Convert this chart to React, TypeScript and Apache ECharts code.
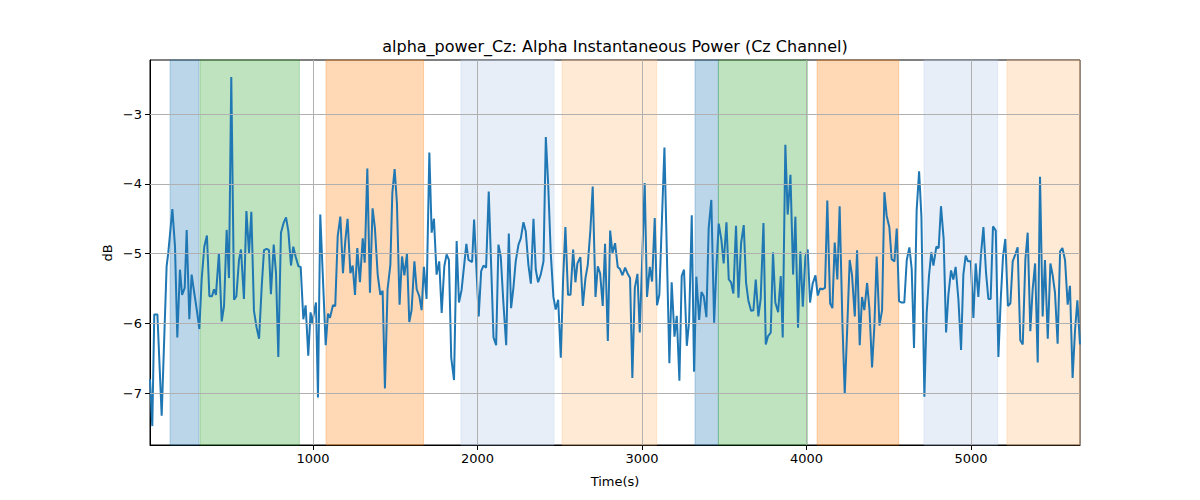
import { useEffect, useRef } from "react";
import * as echarts from "echarts";

const times = [
  9, 23, 35, 54, 80, 110, 120, 145, 161, 175, 191, 204, 220, 232, 248, 262, 278, 293, 309, 323,
  339, 355, 370, 386, 398, 410, 428, 445, 459, 475, 489, 503, 520, 534, 550, 562, 580, 595, 611, 625,
  641, 657, 672, 688, 702, 718, 732, 744, 761, 775, 789, 805, 821, 836, 850, 866, 880, 894, 911, 925,
  941, 955, 971, 985, 996, 1002, 1018, 1030, 1044, 1077, 1091, 1103, 1121, 1135, 1150, 1166, 1182, 1196, 1210, 1227,
  1241, 1255, 1269, 1285, 1302, 1314, 1330, 1346, 1362, 1376, 1393, 1409, 1423, 1437, 1453, 1470, 1482, 1496, 1510, 1526,
  1541, 1555, 1571, 1585, 1599, 1616, 1630, 1646, 1660, 1674, 1690, 1707, 1721, 1735, 1751, 1767, 1782, 1798, 1812, 1826,
  1840, 1857, 1873, 1887, 1903, 1932, 1945, 1967, 1979, 2007, 2022, 2036, 2052, 2068, 2097, 2113, 2127, 2141, 2157, 2174,
  2190, 2204, 2218, 2232, 2249, 2263, 2279, 2293, 2309, 2324, 2340, 2354, 2368, 2384, 2401, 2415, 2429, 2445, 2461, 2475,
  2490, 2506, 2520, 2534, 2550, 2565, 2581, 2595, 2607, 2625, 2640, 2656, 2670, 2686, 2700, 2717, 2731, 2745, 2761, 2775,
  2792, 2806, 2820, 2836, 2852, 2866, 2881, 2897, 2911, 2927, 2941, 2956, 2972, 2986, 3016, 3030, 3047, 3061, 3077, 3091,
  3105, 3136, 3166, 3180, 3197, 3211, 3227, 3241, 3255, 3272, 3286, 3302, 3316, 3330, 3347, 3361, 3375, 3391, 3405, 3421,
  3438, 3452, 3466, 3482, 3496, 3513, 3527, 3541, 3555, 3571, 3586, 3602, 3618, 3632, 3646, 3663, 3677, 3691, 3707, 3721,
  3738, 3752, 3766, 3782, 3796, 3810, 3827, 3843, 3855, 3871, 3885, 3902, 3918, 3932, 3948, 3962, 3977, 3993, 4007, 4021,
  4037, 4054, 4068, 4082, 4096, 4112, 4126, 4143, 4157, 4171, 4187, 4201, 4218, 4232, 4248, 4262, 4276, 4293, 4307, 4323,
  4337, 4351, 4368, 4382, 4398, 4412, 4426, 4443, 4459, 4473, 4487, 4503, 4517, 4534, 4548, 4562, 4578, 4594, 4609, 4625,
  4639, 4653, 4669, 4684, 4698, 4716, 4730, 4744, 4758, 4771, 4789, 4803, 4817, 4833, 4848, 4862, 4878, 4892, 4906, 4923,
  4939, 4953, 4967, 4981, 4998, 5014, 5028, 5044, 5060, 5075, 5091, 5105, 5119, 5133, 5150, 5166, 5180, 5194, 5208, 5224,
  5239, 5253, 5269, 5283, 5299, 5314, 5330, 5344, 5360, 5374, 5389, 5405, 5419, 5435, 5449, 5466, 5482, 5496, 5510, 5526,
  5541, 5555, 5571, 5587, 5601, 5617, 5632, 5646, 5662,
];

const powerDb = [
  -6.8, -7.47, -5.87, -5.87, -7.32, -5.18, -4.99, -4.36, -4.9, -6.2, -5.23, -5.59, -5.49, -4.66, -5.94, -5.3, -5.56, -5.8, -6.08, -5.37,
  -4.9, -4.74, -5.61, -5.61, -5.51, -5.59, -4.99, -5.97, -5.75, -4.66, -5.35, -2.47, -5.66, -5.61, -5.09, -4.94, -5.65, -4.39, -4.99, -4.4,
  -5.82, -6.06, -6.22, -5.47, -4.95, -4.93, -4.95, -5.58, -4.87, -5.28, -6.48, -4.7, -4.56, -4.48, -4.68, -5.17, -4.9, -5.04, -5.18, -5.19,
  -5.94, -5.74, -6.46, -5.84, -6.01, -5.9, -5.7, -7.06, -4.44, -6.31, -5.86, -5.92, -5.74, -5.75, -4.75, -4.47, -5.28, -4.82, -4.5, -5.28,
  -5.17, -5.59, -4.92, -5.41, -4.78, -5.13, -3.78, -5.56, -4.35, -4.63, -5.3, -5.59, -5.53, -6.93, -5.51, -5.16, -4.13, -3.79, -4.28, -5.73,
  -5.04, -5.31, -5.0, -5.98, -5.81, -5.11, -5.51, -5.61, -5.81, -5.19, -5.65, -3.55, -4.7, -4.5, -5.3, -5.11, -5.85, -5.18, -5.01, -5.09,
  -6.49, -6.81, -4.82, -5.7, -5.52, -4.86, -5.09, -5.12, -4.51, -5.9, -5.25, -5.17, -5.2, -4.11, -6.2, -6.31, -4.87, -5.04, -5.7, -6.31,
  -4.71, -5.78, -5.49, -5.11, -4.87, -4.78, -4.55, -4.68, -5.16, -5.43, -4.5, -5.23, -5.41, -5.3, -5.11, -3.33, -3.99, -4.99, -5.62, -5.8,
  -5.66, -6.49, -5.37, -4.62, -5.59, -5.59, -4.94, -5.41, -5.14, -5.05, -5.75, -5.35, -5.16, -4.66, -4.04, -5.62, -5.18, -5.28, -5.75, -4.86,
  -6.25, -4.67, -4.99, -4.85, -5.19, -5.22, -5.31, -5.2, -5.28, -5.35, -6.78, -5.49, -5.29, -6.13, -3.99, -5.62, -5.19, -5.4, -4.49, -5.74,
  -5.59, -3.48, -6.57, -5.41, -6.19, -5.89, -6.82, -5.32, -5.23, -6.32, -5.97, -4.45, -6.69, -5.33, -5.95, -5.55, -5.61, -5.91, -4.63, -4.23,
  -5.99, -5.19, -4.57, -4.8, -5.14, -4.55, -5.37, -5.41, -5.57, -4.6, -5.63, -4.85, -4.59, -5.41, -5.67, -5.82, -5.81, -5.37, -5.9, -5.65,
  -4.56, -6.3, -6.18, -6.13, -4.98, -5.7, -5.84, -5.32, -6.2, -3.44, -4.44, -3.87, -5.3, -4.47, -6.06, -4.97, -5.76, -5.04, -4.94, -5.7,
  -5.43, -5.31, -5.6, -5.5, -5.51, -5.49, -4.24, -5.71, -5.78, -4.84, -5.37, -4.32, -6.01, -7.01, -6.01, -5.09, -5.3, -5.9, -4.95, -6.31,
  -5.62, -5.81, -5.42, -5.79, -6.63, -6.04, -5.04, -6.03, -5.81, -4.12, -4.46, -4.62, -5.08, -5.11, -4.64, -5.68, -5.7, -5.7, -5.09, -4.91,
  -5.22, -6.35, -4.38, -3.82, -4.47, -7.05, -5.85, -5.32, -4.98, -5.17, -4.9, -4.92, -4.32, -4.78, -6.13, -5.59, -5.24, -5.37, -5.19, -5.66,
  -6.38, -5.3, -5.03, -5.11, -5.11, -5.92, -5.14, -5.62, -5.01, -4.62, -5.28, -5.65, -5.65, -4.61, -4.67, -6.48, -5.67, -5.04, -4.79, -5.75,
  -5.71, -5.11, -5.01, -4.91, -6.24, -6.3, -5.08, -4.7, -6.11, -5.52, -5.14, -6.56, -3.9, -5.9, -5.09, -6.22, -5.14, -5.31, -5.56, -6.29,
  -4.97, -4.92, -5.09, -5.73, -5.46, -6.78, -6.09, -5.67, -6.3,
];

const spanStarts = [131, 313, 1079, 1899, 2514, 3322, 3464, 4064, 4714, 5218];
const spanEnds = [307, 917, 1672, 2465, 3089, 3464, 4005, 4560, 5162, 5662];
const spanColors = [
  "rgba(31,119,180,0.3)",
  "rgba(44,160,44,0.3)",
  "rgba(255,127,14,0.3)",
  "rgba(174,199,232,0.3)",
  "rgba(255,187,120,0.3)",
  "rgba(31,119,180,0.3)",
  "rgba(44,160,44,0.3)",
  "rgba(255,127,14,0.3)",
  "rgba(174,199,232,0.3)",
  "rgba(255,187,120,0.3)",
];

const xTicks = [1000, 2000, 3000, 4000, 5000];
const yTicks = [-7, -6, -5, -4, -3];

const titleText = "alpha_power_Cz: Alpha Instantaneous Power (Cz Channel)";
const xName = "Time(s)";
const yName = "dB";

const FONT = "DejaVu Sans";

export default function App() {
  const ref = useRef<HTMLDivElement>(null);

  useEffect(() => {
    if (!ref.current) return;
    const chart = echarts.init(ref.current, undefined, { renderer: "svg" });
    const fmt = (v: number) => (v < 0 ? "\u2212" + Math.abs(v) : String(v));
    const seriesData = times.map((t, i) => [t, powerDb[i]]);
    const textStyleBase = {
      fontFamily: FONT,
      fill: "#000",
      align: "center",
      verticalAlign: "middle",
      textAlign: "center",
      textVerticalAlign: "middle",
    };
    const option = {
      animation: false,
      textStyle: { fontFamily: FONT },
      grid: {
        left: 150,
        right: 120,
        top: 60,
        bottom: 55,
        show: true,
        borderColor: "#000",
        borderWidth: 1,
        backgroundColor: "transparent",
      },
      xAxis: {
        type: "value",
        min: times[0],
        max: times[times.length - 1],
        axisLine: { show: true, onZero: false, lineStyle: { color: "#000", width: 1 } },
        axisTick: { show: true, length: 5, lineStyle: { color: "#000", width: 1 }, customValues: xTicks },
        axisLabel: { customValues: xTicks, color: "#000", fontSize: 13, margin: 7, fontFamily: FONT, formatter: fmt },
        splitLine: { show: false },
      },
      yAxis: {
        type: "value",
        min: -7.741,
        max: -2.226,
        axisLine: { show: true, onZero: false, lineStyle: { color: "#000", width: 1 } },
        axisTick: { show: true, length: 5, lineStyle: { color: "#000", width: 1 }, customValues: yTicks },
        axisLabel: { customValues: yTicks, color: "#000", fontSize: 13, margin: 8, fontFamily: FONT, formatter: fmt },
        splitLine: { show: false },
      },
      graphic: [
        { type: "text", x: 615, y: 46, style: { ...textStyleBase, text: titleText, fontSize: 16 } },
        { type: "text", x: 615, y: 481, style: { ...textStyleBase, text: xName, fontSize: 13 } },
        {
          type: "text",
          x: 107,
          y: 253,
          rotation: Math.PI / 2,
          style: { ...textStyleBase, text: yName, fontSize: 13 },
        },
      ],
      series: [
        {
          type: "line",
          name: "spans",
          data: seriesData,
          showSymbol: false,
          symbol: "none",
          lineStyle: { opacity: 0, width: 0 },
          z: 1,
          silent: true,
          markArea: {
            silent: true,
            data: spanStarts.map((s, i) => [
              {
                xAxis: s,
                itemStyle: { color: spanColors[i], borderColor: spanColors[i], borderWidth: 1 },
              },
              { xAxis: spanEnds[i] },
            ]),
          },
        },
        {
          type: "line",
          name: "grid",
          data: seriesData,
          showSymbol: false,
          symbol: "none",
          lineStyle: { opacity: 0, width: 0 },
          z: 2,
          silent: true,
          markLine: {
            silent: true,
            symbol: "none",
            label: { show: false },
            lineStyle: { color: "#b0b0b0", width: 1, type: "solid" },
            data: [
              ...xTicks.map((v) => ({ xAxis: v })),
              ...yTicks.map((v) => ({ yAxis: v })),
            ],
          },
        },
        {
          type: "line",
          name: "alpha_power_Cz",
          data: seriesData,
          showSymbol: false,
          symbol: "none",
          lineStyle: { color: "#1f77b4", width: 2 },
          z: 3,
          silent: true,
        },
      ],
    };
    chart.setOption(option as any);
    return () => chart.dispose();
  }, []);

  return (
    <div
      ref={ref}
      style={{ position: "absolute", left: 0, top: 0, width: 1200, height: 500, background: "#fff" }}
    />
  );
}
